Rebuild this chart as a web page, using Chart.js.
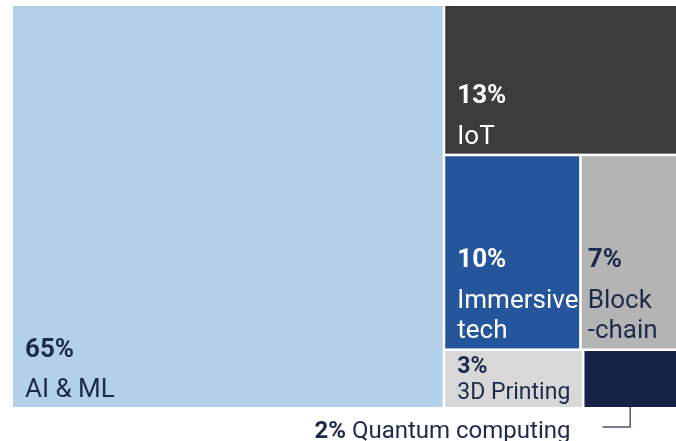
<!DOCTYPE html>
<html><head><meta charset="utf-8">
<script src="https://cdn.jsdelivr.net/npm/chart.js@4.4.1/dist/chart.umd.min.js"></script>
<style>html,body{margin:0;padding:0;background:#fff;}canvas{display:block;}</style>
</head><body>
<canvas id="c" width="676" height="441"></canvas>
<script>
// ---- data ----
const categories = ['AI & ML', 'IoT', 'Immersive tech', 'Blockchain', '3D Printing', 'Quantum computing'];
const labelLines = [['AI & ML'], ['IoT'], ['Immersive', 'tech'], ['Block', '-chain'], ['3D Printing'], ['Quantum computing']];
const shares = [65, 13, 10, 7, 3, 2];

// ---- styles ----
const fills = ['#b3d0e9', '#3c3c3c', '#25559a', '#b4b4b4', '#d8d8d8', '#162248'];
const textColors = ['#1c2a4c', '#ffffff', '#ffffff', '#1c2a4c', '#1c2a4c', '#1c2a4c'];
const FONT = 'Roboto, "Liberation Sans", sans-serif';

// ---- treemap layout (slice & dice, area proportional) ----
// first category takes a full-height column; the rest are stacked in rows
const rowGroups = [[1], [2, 3], [4, 5]];
function layout(vals) {
  const W = 100, H = 100;
  const total = vals.reduce((a, b) => a + b, 0);
  const cells = [];
  const x1 = W * vals[0] / total;
  cells[0] = { x0: 0, x1: x1, y0: 0, y1: H };
  const rest = total - vals[0];
  let y = 0;
  rowGroups.forEach(g => {
    const rs = g.reduce((a, i) => a + vals[i], 0);
    const h = H * rs / rest;
    let x = x1;
    g.forEach(i => {
      const w = (W - x1) * vals[i] / rs;
      cells[i] = { x0: x, x1: x + w, y0: y, y1: y + h };
      x += w;
    });
    y += h;
  });
  return cells;
}
const cells = layout(shares);

function fitLabel(ctx, lines, w, h) {
  for (const s of [26, 23, 20]) {
    ctx.font = s + 'px ' + FONT;
    const maxW = Math.max(...lines.map(t => ctx.measureText(t).width));
    const pad = w < 110 ? 6 : 12;
    if (maxW > w - 8) continue;
    const cap = s * 0.72, n = lines.length;
    const gaps = s * 1.55 + (n - 1) * s * 1.18;
    if (cap + gaps + 18 <= h) return { s, k: 1, bottom: 10, pad };
    const k = (h - 13 - cap) / gaps;
    if (k >= 0.7) return { s, k, bottom: 8, pad };
  }
  return null;
}

const treemapPlugin = {
  id: 'treemap',
  afterDatasetsDraw(chart) {
    const { ctx, scales: { x: xs, y: ys } } = chart;
    const gap = 1.3;
    ctx.save();
    const rects = cells.map(c => {
      const l = xs.getPixelForValue(c.x0), r = xs.getPixelForValue(c.x1);
      const t = ys.getPixelForValue(c.y0), b = ys.getPixelForValue(c.y1);
      return {
        l: c.x0 > 0 ? l + gap : l, r: c.x1 < 100 ? r - gap : r,
        t: c.y0 > 0 ? t + gap : t, b: c.y1 < 100 ? b - gap : b
      };
    });
    rects.forEach((R, i) => {
      ctx.fillStyle = fills[i];
      ctx.fillRect(R.l, R.t, R.r - R.l, R.b - R.t);
    });
    rects.forEach((R, i) => {
      const pct = shares[i] + '%';
      const fit = fitLabel(ctx, labelLines[i], R.r - R.l, R.b - R.t);
      if (!fit) {
        // external label with leader line
        const size2 = 24;
        const pctFont = 'bold ' + size2 + 'px ' + FONT, lblFont = size2 + 'px ' + FONT;
        const cx = (R.l + R.r) / 2;
        const ly = R.b + 20;
        const lx = R.l + 18;
        ctx.strokeStyle = '#4b5670';
        ctx.lineWidth = 1.5;
        ctx.beginPath();
        ctx.moveTo(cx, R.b);
        ctx.lineTo(cx, ly);
        ctx.lineTo(lx, ly);
        ctx.stroke();
        const txt = ' ' + labelLines[i].join(' ');
        ctx.font = lblFont;
        const tw = ctx.measureText(txt).width;
        ctx.font = pctFont;
        const pw = ctx.measureText(pct).width;
        const right = lx - 32;
        ctx.fillStyle = textColors[i];
        ctx.textBaseline = 'alphabetic';
        ctx.textAlign = 'left';
        ctx.fillText(pct, right - tw - pw, ly + 11);
        ctx.font = lblFont;
        ctx.fillText(txt, right - tw, ly + 11);
        return;
      }
      ctx.save();
      ctx.beginPath();
      ctx.rect(R.l, R.t, R.r - R.l, R.b - R.t);
      ctx.clip();
      const size = fit.s;
      const pctFont = 'bold ' + size + 'px ' + FONT, lblFont = size + 'px ' + FONT;
      const n = labelLines[i].length;
      const lineGap = size * 1.18 * fit.k, pctGap = size * 1.55 * fit.k;
      const bottomBase = R.b - fit.bottom;
      const px = R.l + fit.pad;
      ctx.fillStyle = textColors[i];
      ctx.textAlign = 'left';
      ctx.textBaseline = 'alphabetic';
      ctx.font = lblFont;
      for (let j = 0; j < n; j++) {
        ctx.fillText(labelLines[i][n - 1 - j], px, bottomBase - j * lineGap);
      }
      ctx.font = pctFont;
      ctx.fillText(pct, px, bottomBase - (n - 1) * lineGap - pctGap);
      ctx.restore();
    });
    ctx.restore();
  }
};

new Chart(document.getElementById('c'), {
  type: 'scatter',
  data: {
    labels: categories,
    datasets: [{
      data: cells.map((c, i) => ({ x: (c.x0 + c.x1) / 2, y: (c.y0 + c.y1) / 2, v: shares[i] })),
      pointRadius: 0
    }]
  },
  options: {
    responsive: false,
    animation: false,
    devicePixelRatio: 1,
    layout: { padding: { left: 13, right: 0, top: 6, bottom: 34 } },
    plugins: { legend: { display: false }, tooltip: { enabled: false } },
    scales: {
      x: { type: 'linear', min: 0, max: 100, display: false },
      y: { type: 'linear', min: 0, max: 100, reverse: true, display: false }
    }
  },
  plugins: [treemapPlugin]
});
</script>
</body></html>
